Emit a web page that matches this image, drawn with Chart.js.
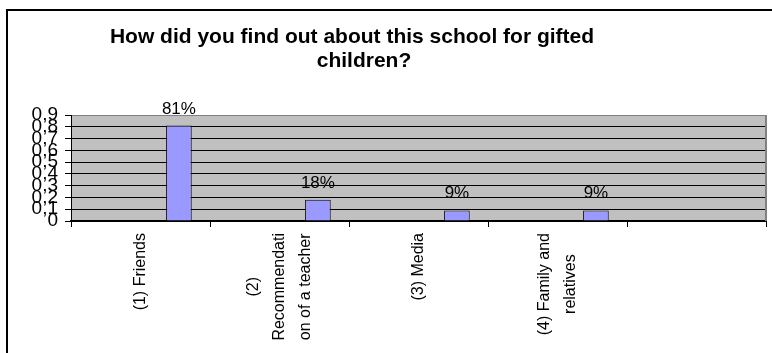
<!DOCTYPE html>
<html>
<head>
<meta charset="utf-8">
<script src="https://cdn.jsdelivr.net/npm/chart.js@4.4.1/dist/chart.umd.min.js"></script>
<style>
  body { margin: 0; background: #fff; }
  #wrap { width: 772px; height: 353px; }
</style>
</head>
<body>
<div id="wrap"><canvas id="sourceChart"></canvas></div>
<script>
const titleLines = ['How did you find out about this school for gifted', 'children?'];
const categories = [
  ['(1) Friends'],
  ['(2)', 'Recommendati', 'on of a teacher'],
  ['(3) Media'],
  ['(4) Family and', 'relatives'],
  ['']
];
const shares = [0.81, 0.18, 0.09, 0.09, null];
const yTickValues = [0, 0.1, 0.2, 0.3, 0.4, 0.5, 0.6, 0.7, 0.8, 0.9];
const yTickLabels = ['0', '0,1', '0,2', '0,3', '0,4', '0,5', '0,6', '0,7', '0,8', '0,9'];

const FONT = "'Liberation Sans', Arial, sans-serif";
Chart.defaults.font.family = FONT;
Chart.defaults.color = '#000';

// grey plot background, grey right edge, outer frame lines
const frame = {
  id: 'frame',
  beforeDraw(chart) {
    const { ctx, chartArea: a } = chart;
    ctx.save();
    ctx.fillStyle = '#c0c0c0';
    ctx.fillRect(a.left, a.top, a.right - a.left, a.bottom - a.top);
    ctx.strokeStyle = '#000';
    ctx.lineWidth = 2;
    ctx.beginPath();
    ctx.moveTo(7, 353);
    ctx.lineTo(7, 10);
    ctx.lineTo(772, 10);
    ctx.stroke();
    ctx.restore();
  },
  afterDraw(chart) {
    const { ctx, chartArea: a } = chart;
    ctx.save();
    ctx.strokeStyle = '#808080';
    ctx.lineWidth = 2;
    ctx.beginPath();
    ctx.moveTo(a.right, a.top);
    ctx.lineTo(a.right, a.bottom);
    ctx.stroke();
    ctx.restore();
  }
};

// two-line heading
const heading = {
  id: 'heading',
  afterDraw(chart) {
    const { ctx } = chart;
    const centres = [352, 364];
    ctx.save();
    ctx.font = 'bold 21px ' + FONT;
    ctx.fillStyle = '#000';
    ctx.textAlign = 'center';
    ctx.textBaseline = 'alphabetic';
    titleLines.forEach((line, i) => ctx.fillText(line, centres[i], 43 + i * 24));
    ctx.restore();
  }
};

// percentage above each bar
const valueLabels = {
  id: 'valueLabels',
  afterDatasetsDraw(chart) {
    const { ctx } = chart;
    const meta = chart.getDatasetMeta(3);
    ctx.save();
    ctx.font = '17px ' + FONT;
    ctx.fillStyle = '#000';
    ctx.textAlign = 'center';
    ctx.textBaseline = 'alphabetic';
    meta.data.forEach((bar, i) => {
      if (shares[i] == null) return;
      ctx.fillText(Math.round(shares[i] * 100) + '%', bar.x, bar.y - 12);
    });
    ctx.restore();
  }
};

// vertical category names, block top-aligned, lines centred
const categoryLabels = {
  id: 'categoryLabels',
  afterDraw(chart) {
    const { ctx } = chart;
    const x = chart.scales.x;
    const top = x.top + 12;
    const lh = 26;
    ctx.save();
    ctx.font = '16px ' + FONT;
    ctx.fillStyle = '#000';
    ctx.textAlign = 'center';
    ctx.textBaseline = 'middle';
    categories.forEach((lines, i) => {
      const w = Math.max(...lines.map(l => ctx.measureText(l).width));
      const cx = x.getPixelForValue(i);
      ctx.save();
      ctx.translate(cx, top + w / 2);
      ctx.rotate(-Math.PI / 2);
      lines.forEach((l, j) => ctx.fillText(l, 0, (j - (lines.length - 1) / 2) * lh));
      ctx.restore();
    });
    ctx.restore();
  }
};

const ctx = document.getElementById('sourceChart').getContext('2d');
new Chart(ctx, {
  type: 'bar',
  data: {
    labels: categories,
    datasets: [
      // three unused series keep the bar in the right-hand slot of each group
      { data: [] },
      { data: [] },
      { data: [] },
      {
        label: 'Share',
        data: shares,
        backgroundColor: '#9999ff',
        borderColor: '#000',
        borderWidth: 1
      }
    ]
  },
  options: {
    responsive: true,
    maintainAspectRatio: false,
    animation: false,
    categoryPercentage: 0.737,
    barPercentage: 1,
    layout: { padding: { top: 115, right: 6, bottom: 0, left: 0 } },
    plugins: {
      legend: { display: false },
      title: { display: false },
      tooltip: { enabled: false }
    },
    scales: {
      x: {
        grid: {
          offset: true,
          drawOnChartArea: false,
          drawTicks: true,
          tickLength: 6,
          color: '#000'
        },
        border: { display: true, color: '#000', width: 2 },
        ticks: { display: false },
        afterFit(scale) { scale.height = 132; }
      },
      y: {
        min: 0,
        max: 0.9,
        afterBuildTicks(scale) {
          scale.ticks = yTickValues.map(v => ({ value: v }));
        },
        ticks: {
          autoSkip: false,
          padding: 7,
          font: { size: 19 },
          callback: (v, i) => yTickLabels[i]
        },
        grid: {
          color: c => (c.index === yTickValues.length - 1 ? '#808080' : '#000'),
          tickColor: '#000',
          tickLength: 6,
          lineWidth: 1
        },
        border: { display: true, color: '#000', width: 1 },
        afterFit(scale) { scale.width = 71; }
      }
    }
  },
  plugins: [frame, heading, valueLabels, categoryLabels]
});
</script>
</body>
</html>
